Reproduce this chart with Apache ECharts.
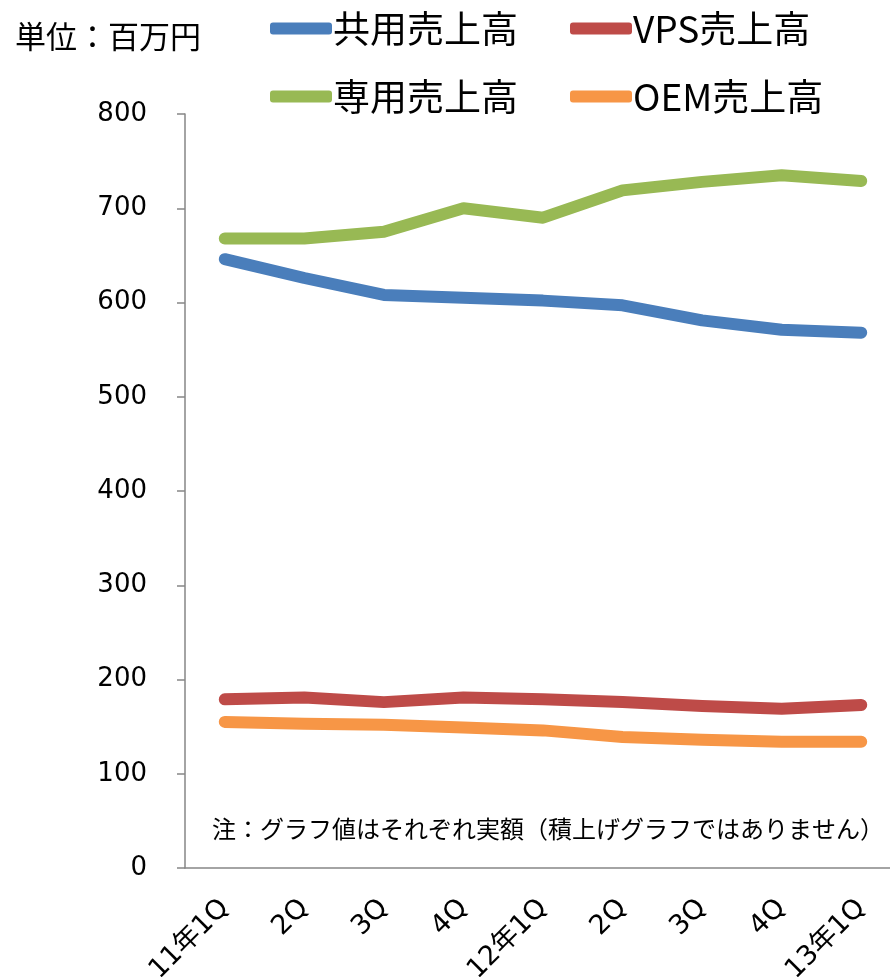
<!DOCTYPE html>
<html><head><meta charset="utf-8">
<script src="https://cdn.jsdelivr.net/npm/echarts@6/dist/echarts.min.js"></script>
<style>html,body{margin:0;padding:0;background:#fff}#c{width:890px;height:977px}</style>
</head><body><div id="c"></div>
<script>
const categories = ['11年1Q','2Q','3Q','4Q','12年1Q','2Q','3Q','4Q','13年1Q'];
const shared = [646, 626, 608, 605, 602, 597, 581, 571, 568];
const vps = [179, 181, 176, 181, 179, 176, 172, 169, 173];
const dedicated = [668, 668, 675, 700, 690, 719, 728, 735, 729];
const oem = [155, 153, 152, 149, 146, 139, 136, 134, 134];
const seriesNames = ['共用売上高','VPS売上高','専用売上高','OEM売上高'];
const colors = ['#4A7EBB','#BE4B48','#98B954','#F79646'];
const unitLabel = '単位：百万円';
const note = '注：グラフ値はそれぞれ実額（積上げグラフではありません）';

const cjk = '"Noto Sans CJK JP", "DejaVu Sans", sans-serif';
const num = '"DejaVu Sans", "Noto Sans CJK JP", sans-serif';
const chart = echarts.init(document.getElementById('c'));
const datas = [shared, vps, dedicated, oem];
const legendText = {fontFamily: cjk, fontSize: 37, color: '#000', padding:[0,0,0,-4]};
chart.setOption({
  animation: false,
  color: colors,
  title: [{text: unitLabel, left: 10, top: 16, textStyle: {fontFamily: cjk, fontSize: 31, fontWeight: 'normal', color: '#000'}},
          {text: note, left: 207, top: 812, textStyle: {fontFamily: cjk, fontSize: 24, fontWeight: 'normal', color: '#000'}}],
  legend: [
    {data: [seriesNames[0], seriesNames[1]], left: 270, top: 10, itemWidth: 62, itemHeight: 12, itemGap: 52, icon: 'roundRect', padding: 0, textStyle: legendText},
    {data: [seriesNames[2], seriesNames[3]], left: 270, top: 78, itemWidth: 62, itemHeight: 12, itemGap: 52, icon: 'roundRect', padding: 0, textStyle: legendText}
  ],
  grid: {left: 185, top: 114, bottom: 109, right: -11, containLabel: false, outerBoundsMode: 'none'},
  xAxis: {
    type: 'category', data: categories, boundaryGap: true,
    axisLine: {lineStyle: {color: '#868686', width: 1.5}},
    axisTick: {length: 8, lineStyle: {color: '#868686', width: 1.5}},
    axisLabel: {rotate: 45, margin: 36, fontFamily: num, fontSize: 27, color: '#000', interval: 0}
  },
  yAxis: {
    type: 'value', min: 0, max: 800, interval: 100,
    axisLine: {show: true, lineStyle: {color: '#868686', width: 1.5}},
    axisTick: {show: true, length: 8, lineStyle: {color: '#868686', width: 1.5}},
    splitLine: {show: false},
    axisLabel: {margin: 38, fontFamily: num, fontSize: 26, color: '#000'}
  },
  series: datas.map((d, i) => ({
    name: seriesNames[i], type: 'line', data: d, symbol: 'none',
    lineStyle: {width: 12, cap: 'round', join: 'round', color: colors[i]},
    itemStyle: {color: colors[i]}
  }))
});
</script></body></html>
